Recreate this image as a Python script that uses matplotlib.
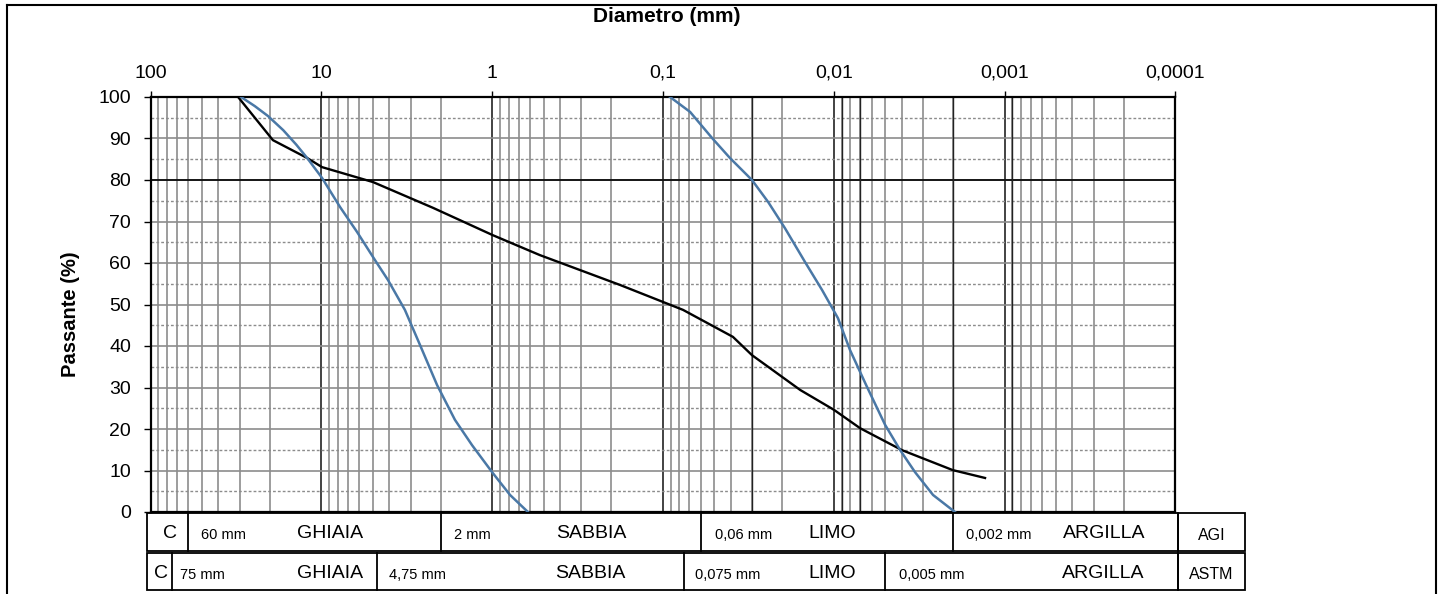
import numpy as np
import matplotlib.pyplot as plt
from matplotlib import transforms
from matplotlib.lines import Line2D
from matplotlib.patches import Rectangle
from matplotlib.ticker import LogLocator, FixedLocator, NullFormatter

plt.rcParams['font.family'] = ['Liberation Sans', 'DejaVu Sans']

x_ticks = [100, 10, 1, 0.1, 0.01, 0.001, 0.0001]
x_ticklabels = ["100", "10", "1", "0,1", "0,01", "0,001", "0,0001"]
y_ticks = list(range(0, 101, 10))

# curva nera
d_black = [30.7, 19.2, 12.1, 9.9, 4.98, 2.22, 0.99, 0.525, 0.178, 0.0762,
           0.0389, 0.0301, 0.0157, 0.00995, 0.00701, 0.00398, 0.00201, 0.0013]
p_black = [100, 89.6, 85.3, 83.1, 79.5, 73.3, 66.7, 61.9, 54.7, 48.7,
           42.2, 37.8, 29.4, 24.6, 20.2, 14.9, 10.1, 8.2]

# curve blu
d_blue1 = [29.5, 24.5, 20.5, 16.7, 14.0, 12.1, 9.9, 7.77, 6.18, 4.85, 4.07,
           3.24, 2.64, 2.10, 1.65, 1.31, 1.00, 0.785, 0.617]
p_blue1 = [100, 97.8, 95.4, 92.0, 88.5, 85.3, 80.5, 73.5, 67.5, 60.7, 55.9,
           48.7, 40.2, 30.6, 22.2, 16.1, 9.6, 4.1, 0]

d_blue2 = [0.0908, 0.0693, 0.0515, 0.0405, 0.0301, 0.0242, 0.0193, 0.0147,
           0.0117, 0.00944, 0.00802, 0.00646, 0.0050, 0.00408, 0.00334,
           0.00262, 0.00195]
p_blue2 = [100, 96.4, 90.1, 85.3, 80, 74.7, 68.4, 60.2, 53.5, 46.7, 39,
           30.6, 21, 14.9, 9.6, 4.1, 0]

extra_lines = [0.03, 0.009, 0.007, 0.002, 0.0009]

# classificazioni
agi_bounds = [60, 2, 0.06, 0.002]
agi_sizes = ["60 mm", "2 mm", "0,06 mm", "0,002 mm"]
agi_names = ["GHIAIA", "SABBIA", "LIMO", "ARGILLA"]
astm_bounds = [75, 4.75, 0.075, 0.005]
astm_sizes = ["75 mm", "4,75 mm", "0,075 mm", "0,005 mm"]
astm_names = ["GHIAIA", "SABBIA", "LIMO", "ARGILLA"]

W, H = 1443, 594
fig = plt.figure(figsize=(W / 100, H / 100), dpi=100)
fig.subplots_adjust(left=150.5 / W, right=1175.3 / W, top=1 - 97 / H, bottom=1 - 512 / H)
ax = fig.add_subplot(111)

ax.set_xscale('log')
ax.set_xlim(100, 0.0001)
ax.set_ylim(0, 100)

ax.xaxis.set_major_locator(FixedLocator(x_ticks))
ax.xaxis.set_minor_locator(LogLocator(base=10, subs=np.arange(2, 10)))
ax.xaxis.set_minor_formatter(NullFormatter())
ax.set_xticklabels(x_ticklabels)
ax.set_yticks(y_ticks)
ax.set_yticks(np.arange(5, 100, 10), minor=True)

ax.tick_params(axis='x', which='both', bottom=False, top=True, labelbottom=False, labeltop=True)
ax.tick_params(axis='x', which='major', direction='out', length=4, width=1, pad=7, labelsize=14)
ax.tick_params(axis='x', which='minor', length=0)
ax.tick_params(axis='y', which='major', direction='out', length=5, width=1, pad=9, labelsize=14)
ax.tick_params(axis='y', which='minor', length=0)

ax.grid(which='minor', axis='x', color='#8c8c8c', lw=1.2)
ax.grid(which='major', axis='x', color='#222222', lw=1.2)
ax.grid(which='major', axis='y', color='#8c8c8c', lw=1.2)
ax.grid(which='minor', axis='y', color='#8c8c8c', lw=1.0, ls=(0, (2, 1.5)))
ax.axhline(80, color='black', lw=1.2)
for x in extra_lines:
    ax.axvline(x, color='#222222', lw=1.0)

for s in ax.spines.values():
    s.set_color('black')
    s.set_linewidth(1.6)

ax.plot(d_black, p_black, color='black', lw=1.7, zorder=5)
ax.plot(d_blue1, p_blue1, color='#4a78a6', lw=1.8, zorder=5)
ax.plot(d_blue2, p_blue2, color='#4a78a6', lw=1.8, zorder=5)

fig.text(667 / W, 1 - 17 / H, "Diametro (mm)", ha='center', va='center', fontsize=15, fontweight='bold')
fig.text(70 / W, 1 - 314 / H, "Passante (%)", ha='center', va='center', rotation=90,
         fontsize=14.5, fontweight='bold')

# tabella
trans = transforms.blended_transform_factory(ax.transData, ax.transAxes)


def fx(px):
    return (px - 150.5) / 1024.8


def fy(py):
    return (512 - py) / 415.0


rows = [
    (513, 550.5, agi_bounds, agi_sizes, agi_names, "AGI", 170,
     [201, 454, 715, 966], [330, 591, 832, 1104]),
    (553, 589.5, astm_bounds, astm_sizes, astm_names, "ASTM", 161,
     [180, 389, 695, 899], [330, 590, 832, 1103]),
]
for top, bot, bounds, sizes, names, tag, cx, sx, nx in rows:
    y0, y1 = fy(bot), fy(top)
    ax.add_patch(Rectangle((fx(147), y0), fx(1178) - fx(147), y1 - y0, transform=ax.transAxes,
                           fill=False, ec='black', lw=1.3, clip_on=False))
    ax.add_patch(Rectangle((fx(1178), y0), fx(1245) - fx(1178), y1 - y0, transform=ax.transAxes,
                           fill=False, ec='black', lw=1.3, clip_on=False))
    for b in bounds:
        ax.plot([b, b], [y0, y1], transform=trans, color='black', lw=1.3, clip_on=False)
    ym = (y0 + y1) / 2 - 0.005
    ax.text(fx(cx), ym, "C", transform=ax.transAxes, ha='center', va='center', fontsize=14)
    for s, x in zip(sizes, sx):
        ax.text(fx(x), ym - 0.004, s, transform=ax.transAxes, ha='left', va='center', fontsize=10.5)
    for n, x in zip(names, nx):
        ax.text(fx(x), ym, n, transform=ax.transAxes, ha='center', va='center', fontsize=14)
    ax.text(fx(1211.5), ym - 0.004, tag, transform=ax.transAxes, ha='center', va='center', fontsize=11.5)

# cornice
fig.add_artist(Line2D([7 / W, 7 / W], [0, 1 - 5 / H], transform=fig.transFigure, color='black', lw=1.5))
fig.add_artist(Line2D([7 / W, 1436 / W], [1 - 5 / H, 1 - 5 / H], transform=fig.transFigure, color='black', lw=1.5))
fig.add_artist(Line2D([1436 / W, 1436 / W], [0, 1 - 5 / H], transform=fig.transFigure, color='black', lw=1.5))

fig.savefig("out.png", dpi=100)
